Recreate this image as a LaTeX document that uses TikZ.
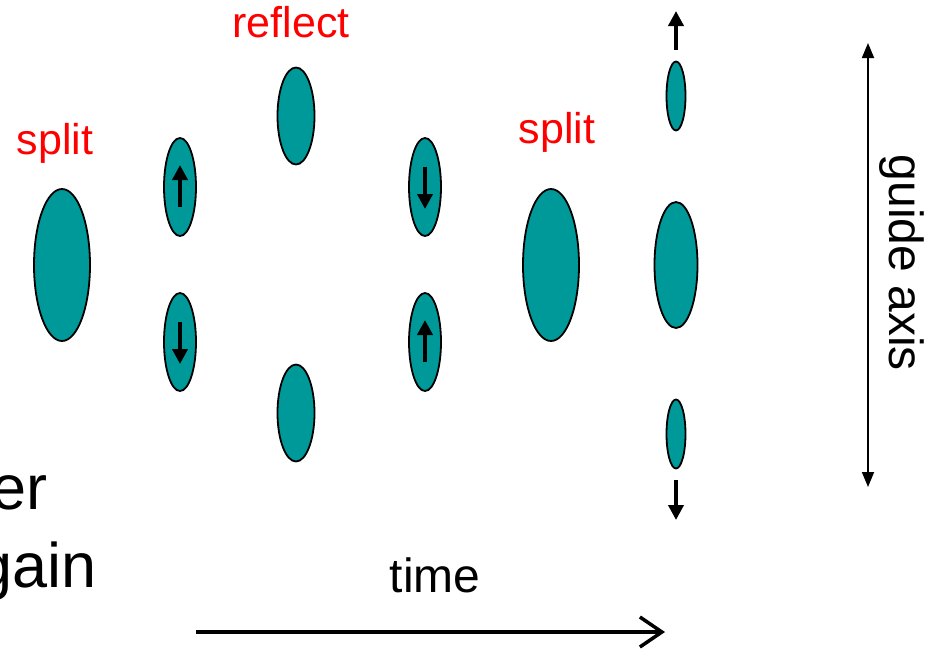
\documentclass[tikz,border=0pt]{standalone}
\usepackage{fontspec}
\setmainfont{Liberation Sans}
\usetikzlibrary{shapes.geometric,arrows.meta,calc}
\definecolor{tealfill}{RGB}{0,153,153}
\definecolor{redtext}{RGB}{255,0,0}
\tikzset{
  blob/.style={ellipse,draw=black,line width=1.8pt,fill=tealfill,inner sep=0pt},
  inarrow/.style={line width=4pt,-{Triangle[width=15pt,length=15pt]}},
  redlabel/.style={text=redtext,font=\fontsize{43}{50}\selectfont,inner sep=0pt},
  blacklabel/.style={text=black,font=\fontsize{48}{55}\selectfont,inner sep=0pt},
  bigtext/.style={text=black,font=\fontsize{63}{70}\selectfont,inner sep=0pt},
}
\begin{document}
\begin{tikzpicture}[x=1pt,y=-1pt]
\useasboundingbox (0,0) rectangle (941,648);
% ellipses
\node[blob,minimum width=56pt,minimum height=152pt] (e1) at (62,265) {};
\node[blob,minimum width=32pt,minimum height=98pt] (e2) at (180,187) {};
\node[blob,minimum width=32pt,minimum height=98pt] (e3) at (180,342) {};
\node[blob,minimum width=37pt,minimum height=97pt] (e4) at (296,116) {};
\node[blob,minimum width=37pt,minimum height=97pt] (e5) at (296,413) {};
\node[blob,minimum width=32pt,minimum height=98pt] (e6) at (425,187) {};
\node[blob,minimum width=32pt,minimum height=98pt] (e7) at (425,342) {};
\node[blob,minimum width=56pt,minimum height=152pt] (e8) at (551,265) {};
\node[blob,minimum width=43pt,minimum height=126pt] (e9) at (676,265) {};
\node[blob,minimum width=19pt,minimum height=69pt] (e10) at (676,96) {};
\node[blob,minimum width=19pt,minimum height=69pt] (e11) at (676,434) {};
% arrows inside ellipses
\coordinate (a2s) at ($(e2.center)+(0,20)$); \coordinate (a2e) at ($(e2.center)+(0,-22)$);
\coordinate (a3s) at ($(e3.center)+(0,-20)$); \coordinate (a3e) at ($(e3.center)+(0,22)$);
\coordinate (a6s) at ($(e6.center)+(0,-20)$); \coordinate (a6e) at ($(e6.center)+(0,22)$);
\coordinate (a7s) at ($(e7.center)+(0,20)$); \coordinate (a7e) at ($(e7.center)+(0,-22)$);
\draw[inarrow] (a2s) -- (a2e);
\draw[inarrow] (a3s) -- (a3e);
\draw[inarrow] (a6s) -- (a6e);
\draw[inarrow] (a7s) -- (a7e);
% outer arrows
\coordinate (tops) at (676,50); \coordinate (tope) at (676,11);
\coordinate (bots) at (676,480); \coordinate (bote) at (676,520);
\draw[inarrow] (tops) -- (tope);
\draw[inarrow] (bots) -- (bote);
% guide axis
\coordinate (g1) at (868,487); \coordinate (g2) at (868,43);
\draw[line width=1.8pt,{Triangle[width=12pt,length=15pt]}-{Triangle[width=12pt,length=15pt]}] (g1) -- (g2);
\node[blacklabel,rotate=-90] (guide) at (902,263) {guide axis};
% time arrow
\coordinate (t1) at (196,632); \coordinate (t2) at (665,632);
\draw[line width=3.5pt,-{Straight Barb[length=22pt,width=30pt,line width=3.5pt]}] (t1) -- (t2);
\node[blacklabel] (time) at (435,575) {time};
% labels
\node[redlabel] (reflect) at (291,22) {reflect};
\node[redlabel] (split1) at (55,143) {split};
\node[redlabel] (split2) at (557,132) {split};
% cut-off text
\node[bigtext,anchor=base east] (er) at (48,509) {er};
\node[bigtext,anchor=base east] (gain) at (97,587) {gain};
\end{tikzpicture}
\end{document}
